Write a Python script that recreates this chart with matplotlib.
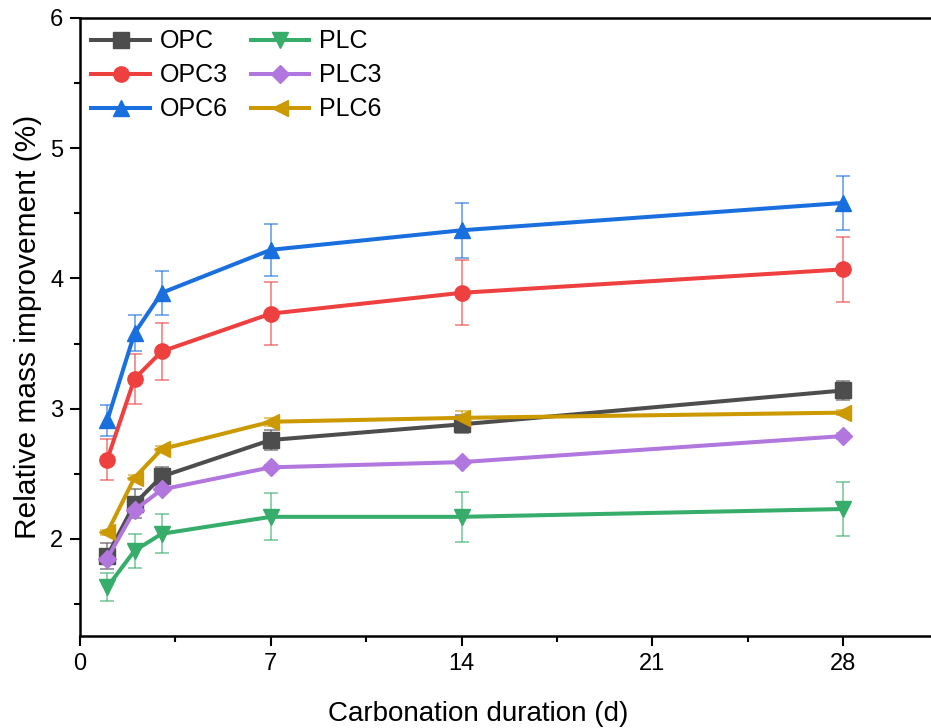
import numpy as np
import matplotlib
import matplotlib.pyplot as plt
from matplotlib.ticker import MultipleLocator

matplotlib.use('Agg')

plt.rcParams['font.family'] = ['Liberation Sans', 'DejaVu Sans']

# carbonation days
days = [1, 2, 3, 7, 14, 28]

# mean relative mass improvement (%) and standard deviations
opc = [1.87, 2.27, 2.48, 2.76, 2.88, 3.14]
opc_err = [0.10, 0.11, 0.07, 0.08, 0.07, 0.07]
opc3 = [2.61, 3.23, 3.44, 3.73, 3.89, 4.07]
opc3_err = [0.16, 0.19, 0.22, 0.24, 0.25, 0.25]
opc6 = [2.91, 3.58, 3.89, 4.22, 4.37, 4.58]
opc6_err = [0.12, 0.14, 0.17, 0.20, 0.21, 0.21]
plc = [1.63, 1.91, 2.04, 2.17, 2.17, 2.23]
plc_err = [0.11, 0.13, 0.15, 0.18, 0.19, 0.21]
plc3 = [1.85, 2.22, 2.38, 2.55, 2.59, 2.79]
plc3_err = [0.02, 0.02, 0.02, 0.02, 0.02, 0.02]
plc6 = [2.05, 2.47, 2.69, 2.90, 2.93, 2.97]
plc6_err = [0.02, 0.02, 0.02, 0.03, 0.05, 0.02]

labels = ['OPC', 'OPC3', 'OPC6', 'PLC', 'PLC3', 'PLC6']
colors = ['#4d4d4d', '#ef4040', '#1a6fdf', '#37ad6b', '#b177de', '#cc9900']
markers = ['s', 'o', '^', 'v', 'D', '<']
means = [opc, opc3, opc6, plc, plc3, plc6]
errors = [opc_err, opc3_err, opc6_err, plc_err, plc3_err, plc6_err]

fig = plt.figure(figsize=(9.31, 7.28), dpi=100)
ax = fig.add_axes([80 / 931, 92 / 728, 872 / 931, 618 / 728])

for lab, col, mk, y, e in zip(labels, colors, markers, means, errors):
    ax.errorbar(days, y, yerr=e, fmt='none', ecolor=col, elinewidth=1.2,
                capsize=5, capthick=1.2, alpha=0.65, zorder=2)
    ms = 9.5 if mk == 'D' else 11
    ax.plot(days, y, color=col, marker=mk, markersize=ms, linewidth=2.9,
            label=lab, zorder=3)

ax.set_xlim(0, 32)
ax.set_ylim(1.255, 6)
ax.xaxis.set_major_locator(MultipleLocator(7))
ax.xaxis.set_minor_locator(MultipleLocator(3.5))
ax.yaxis.set_major_locator(MultipleLocator(1))
ax.yaxis.set_minor_locator(MultipleLocator(0.5))
ax.set_xticks([0, 7, 14, 21, 28])

ax.tick_params(which='major', direction='out', length=7, width=1.5,
               labelsize=17, pad=5)
ax.tick_params(which='minor', direction='out', length=4, width=1.5)
for side in ['left', 'bottom', 'top']:
    ax.spines[side].set_linewidth(1.8)
ax.spines['right'].set_visible(False)

ax.set_xlabel('Carbonation duration (d)', fontsize=20)
ax.xaxis.set_label_coords(398 / 872, -0.105)
ax.set_ylabel('Relative mass improvement (%)', fontsize=21.5, labelpad=6)

ax.legend(loc='upper left', ncol=2, frameon=False, fontsize=18,
          handlelength=2.35, columnspacing=0.9, labelspacing=0.4,
          borderaxespad=0.05, handletextpad=0.4)

fig.savefig('out.png', dpi=100)
plt.close(fig)
